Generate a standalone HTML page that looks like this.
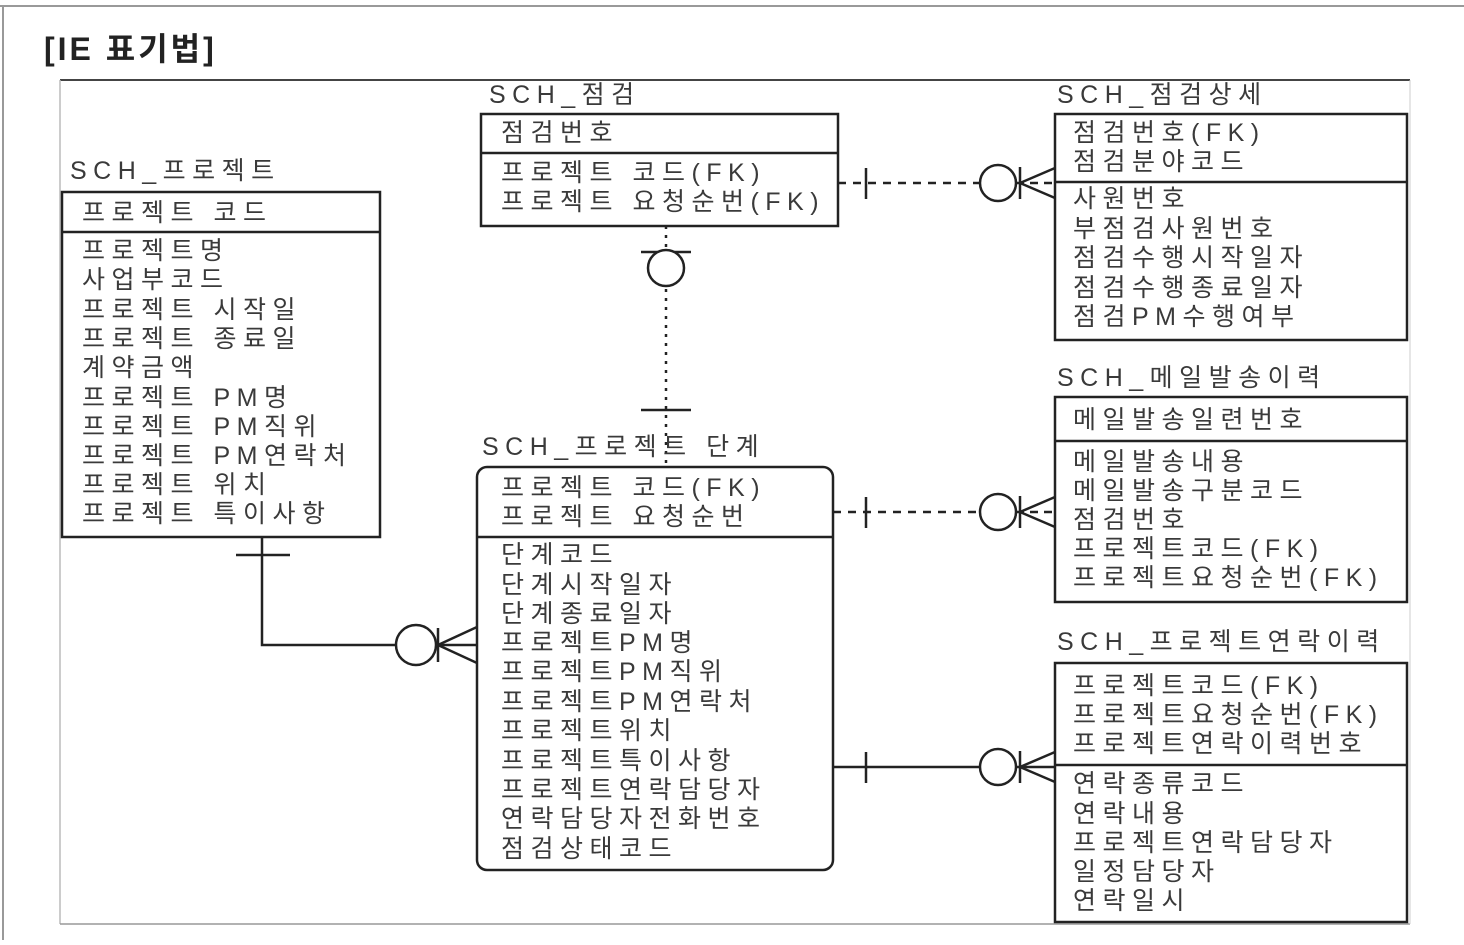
<!DOCTYPE html>
<html><head><meta charset="utf-8"><style>
body{margin:0;background:#fff}
svg text{font-family:"Liberation Sans","Noto Sans CJK KR","NanumGothic",sans-serif;fill:#3a3a3a;font-size:25px;letter-spacing:6.5px}
</style></head><body>
<svg width="1464" height="940" viewBox="0 0 1464 940" xmlns="http://www.w3.org/2000/svg">
<rect width="1464" height="940" fill="#fff"/>
<line x1="0" y1="6" x2="1464" y2="6" stroke="#999" stroke-width="2"/>
<line x1="3" y1="6" x2="3" y2="940" stroke="#999" stroke-width="2"/>
<text x="44" y="60" style="font-size:32px;font-weight:bold;fill:#222;letter-spacing:3px">[IE 표기법]</text>
<line x1="60" y1="80" x2="1410" y2="80" stroke="#444" stroke-width="2"/>
<line x1="60" y1="80" x2="60" y2="924" stroke="#bbb" stroke-width="1.5"/>
<line x1="60" y1="924" x2="1410" y2="924" stroke="#999" stroke-width="1.5"/>
<line x1="1410" y1="80" x2="1410" y2="924" stroke="#ccc" stroke-width="1"/>

<g fill="none" stroke="#222" stroke-width="2.5">
<rect x="62" y="192" width="318" height="345"/><line x1="62" y1="232" x2="380" y2="232"/>
<rect x="481" y="114" width="357" height="112"/><line x1="481" y1="153" x2="838" y2="153"/>
<rect x="1055" y="114" width="352" height="226"/><line x1="1055" y1="182" x2="1407" y2="182"/>
<rect x="1055" y="397" width="352" height="205"/><line x1="1055" y1="441" x2="1407" y2="441"/>
<rect x="1055" y="663" width="352" height="259"/><line x1="1055" y1="765" x2="1407" y2="765"/>
<rect x="477" y="467" width="356" height="403" rx="10"/><line x1="477" y1="537" x2="833" y2="537"/>
</g>

<g stroke="#222" stroke-width="2.5" fill="none">
<line x1="838" y1="183" x2="980" y2="183" stroke-dasharray="8,7"/>
<line x1="866" y1="168" x2="866" y2="199"/>
<circle cx="998" cy="183" r="18"/>
<line x1="1020" y1="167" x2="1020" y2="199"/>
<line x1="1016" y1="183" x2="1055" y2="183" stroke-dasharray="8,6"/>
<line x1="1020" y1="183" x2="1055" y2="168"/><line x1="1020" y1="183" x2="1055" y2="198"/>
<line x1="666" y1="226" x2="666" y2="467" stroke-dasharray="3,6"/>
<line x1="641" y1="252" x2="691" y2="252"/>
<circle cx="666" cy="268" r="18" fill="#fff"/>
<line x1="641" y1="410" x2="691" y2="410"/>
<line x1="833" y1="512" x2="980" y2="512" stroke-dasharray="8,7"/>
<line x1="866" y1="497" x2="866" y2="528"/>
<circle cx="998" cy="512" r="18"/>
<line x1="1020" y1="496" x2="1020" y2="528"/>
<line x1="1016" y1="512" x2="1055" y2="512" stroke-dasharray="8,6"/>
<line x1="1020" y1="512" x2="1055" y2="497"/><line x1="1020" y1="512" x2="1055" y2="527"/>
<line x1="833" y1="767" x2="1055" y2="767"/>
<line x1="866" y1="752" x2="866" y2="783"/>
<circle cx="998" cy="767" r="18" fill="#fff"/>
<line x1="1020" y1="751" x2="1020" y2="783"/>
<line x1="1020" y1="767" x2="1055" y2="752"/><line x1="1020" y1="767" x2="1055" y2="782"/>
<polyline points="262,537 262,645 477,645"/>
<line x1="236" y1="555" x2="290" y2="555"/>
<circle cx="416" cy="645" r="20" fill="#fff"/>
<line x1="438" y1="628" x2="438" y2="662"/>
<line x1="438" y1="645" x2="477" y2="627"/><line x1="438" y1="645" x2="477" y2="663"/>
</g>

<text x="70" y="179">SCH_프로젝트</text>
<text x="82" y="221">프로젝트 코드</text>
<text x="82" y="259">프로젝트명</text>
<text x="82" y="288">사업부코드</text>
<text x="82" y="318">프로젝트 시작일</text>
<text x="82" y="347">프로젝트 종료일</text>
<text x="82" y="376">계약금액</text>
<text x="82" y="406">프로젝트 PM명</text>
<text x="82" y="435">프로젝트 PM직위</text>
<text x="82" y="464">프로젝트 PM연락처</text>
<text x="82" y="493">프로젝트 위치</text>
<text x="82" y="522">프로젝트 특이사항</text>

<text x="489" y="103">SCH_점검</text>
<text x="501" y="141">점검번호</text>
<text x="501" y="181">프로젝트 코드(FK)</text>
<text x="501" y="210">프로젝트 요청순번(FK)</text>

<text x="1057" y="103">SCH_점검상세</text>
<text x="1073" y="141">점검번호(FK)</text>
<text x="1073" y="170">점검분야코드</text>
<text x="1073" y="207">사원번호</text>
<text x="1073" y="237">부점검사원번호</text>
<text x="1073" y="266">점검수행시작일자</text>
<text x="1073" y="296">점검수행종료일자</text>
<text x="1073" y="325">점검PM수행여부</text>

<text x="1057" y="386">SCH_메일발송이력</text>
<text x="1073" y="428">메일발송일련번호</text>
<text x="1073" y="470">메일발송내용</text>
<text x="1073" y="499">메일발송구분코드</text>
<text x="1073" y="528">점검번호</text>
<text x="1073" y="557">프로젝트코드(FK)</text>
<text x="1073" y="586">프로젝트요청순번(FK)</text>

<text x="1057" y="650">SCH_프로젝트연락이력</text>
<text x="1073" y="694">프로젝트코드(FK)</text>
<text x="1073" y="723">프로젝트요청순번(FK)</text>
<text x="1073" y="752">프로젝트연락이력번호</text>
<text x="1073" y="792">연락종류코드</text>
<text x="1073" y="822">연락내용</text>
<text x="1073" y="851">프로젝트연락담당자</text>
<text x="1073" y="880">일정담당자</text>
<text x="1073" y="909">연락일시</text>

<text x="482" y="455">SCH_프로젝트 단계</text>
<text x="501" y="496">프로젝트 코드(FK)</text>
<text x="501" y="525">프로젝트 요청순번</text>
<text x="501" y="563">단계코드</text>
<text x="501" y="593">단계시작일자</text>
<text x="501" y="622">단계종료일자</text>
<text x="501" y="651">프로젝트PM명</text>
<text x="501" y="680">프로젝트PM직위</text>
<text x="501" y="710">프로젝트PM연락처</text>
<text x="501" y="739">프로젝트위치</text>
<text x="501" y="769">프로젝트특이사항</text>
<text x="501" y="798">프로젝트연락담당자</text>
<text x="501" y="827">연락담당자전화번호</text>
<text x="501" y="857">점검상태코드</text>
</svg>
</body></html>
